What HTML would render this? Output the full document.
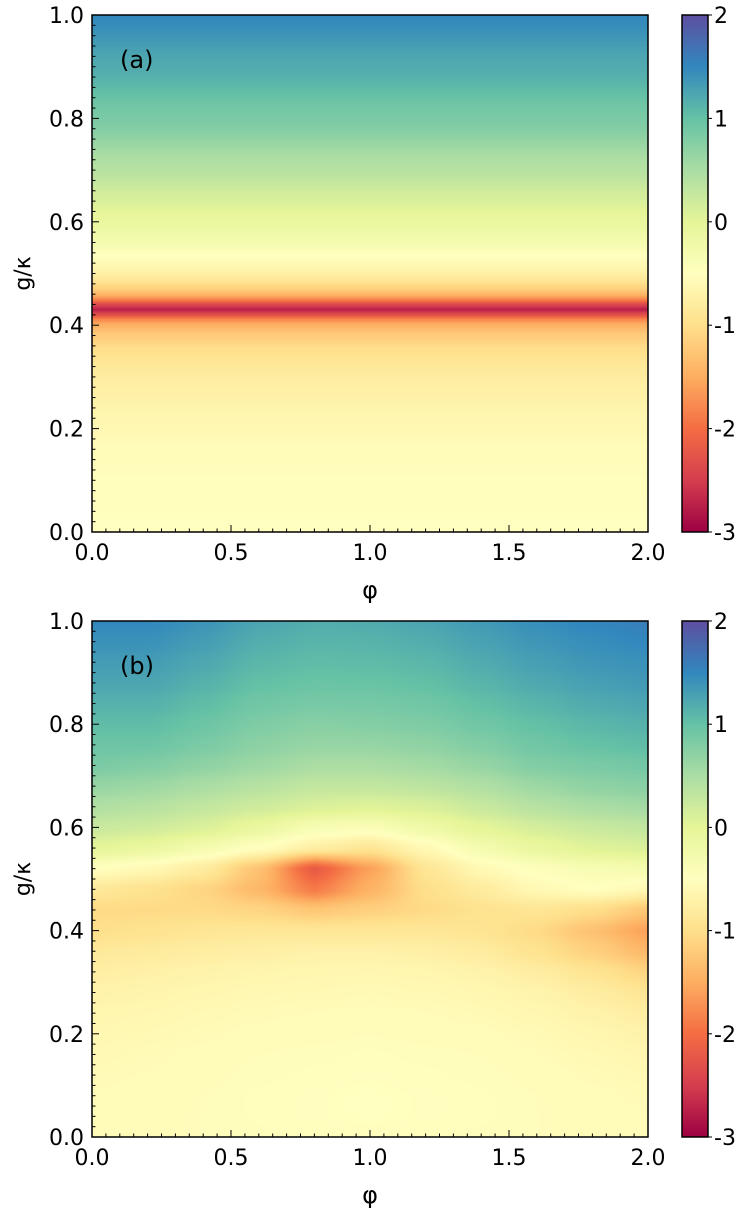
<!DOCTYPE html>
<html><head><meta charset="utf-8"><style>
body{margin:0;background:#fff;width:746px;height:1214px;overflow:hidden;font-family:"DejaVu Sans","Liberation Sans",sans-serif}
canvas{position:absolute}
svg{position:absolute;left:0;top:0}
</style></head><body>
<canvas id="ca" style="left:92px;top:15px" width="556" height="517"></canvas>
<canvas id="cb" style="left:92px;top:621px" width="556" height="516"></canvas>
<canvas id="cba" style="left:682px;top:15px" width="26" height="517"></canvas>
<canvas id="cbb" style="left:682px;top:621px" width="26" height="516"></canvas>
<svg id="ov" width="746" height="1214"></svg>
<script>
const spectral=[[158,1,66],[213,62,79],[244,109,67],[253,174,97],[254,224,139],[255,255,191],[230,245,152],[171,221,164],[102,194,165],[50,136,189],[94,79,162]];
const vmin=-3, vmax=2;
const xTicks=[0,0.5,1.0,1.5,2.0];
const yTicks=[0,0.2,0.4,0.6,0.8,1.0];
const cbTicks=[2,1,0,-1,-2,-3];
// panel (a): profile along g/kappa
const gA=[0,0.1,0.16,0.22,0.28,0.32,0.35,0.38,0.40,0.41,0.42,0.43,0.44,0.45,0.46,0.47,0.49,0.51,0.535,0.56,0.6,0.65,0.7,0.8,0.9,1.0];
const vA=[-0.5,-0.52,-0.56,-0.64,-0.75,-0.85,-0.98,-1.2,-1.45,-1.75,-2.3,-2.75,-2.4,-1.8,-1.4,-1.15,-0.85,-0.65,-0.5,-0.3,-0.1,0.15,0.4,0.85,1.2,1.5];
// panel (b): grid, phi columns 0..2 step 0.2, g rows 0..1 step 0.04
const phiB=[0,0.2,0.4,0.6,0.8,1.0,1.2,1.4,1.6,1.8,2.0];
const gB=[0,0.04,0.08,0.12,0.16,0.2,0.24,0.28,0.32,0.36,0.40,0.44,0.48,0.52,0.56,0.60,0.64,0.68,0.72,0.76,0.80,0.84,0.88,0.92,0.96,1.0];
const vB=[
[-0.56,-0.55,-0.54,-0.53,-0.52,-0.52,-0.52,-0.53,-0.54,-0.55,-0.56],
[-0.56,-0.55,-0.54,-0.52,-0.51,-0.5,-0.51,-0.52,-0.54,-0.55,-0.57],
[-0.57,-0.56,-0.54,-0.52,-0.51,-0.5,-0.51,-0.52,-0.54,-0.56,-0.58],
[-0.58,-0.57,-0.55,-0.53,-0.52,-0.51,-0.52,-0.53,-0.55,-0.58,-0.6],
[-0.6,-0.58,-0.56,-0.54,-0.53,-0.52,-0.53,-0.54,-0.57,-0.6,-0.64],
[-0.62,-0.6,-0.58,-0.56,-0.55,-0.54,-0.55,-0.56,-0.59,-0.64,-0.7],
[-0.65,-0.63,-0.6,-0.58,-0.57,-0.56,-0.57,-0.59,-0.63,-0.7,-0.78],
[-0.7,-0.67,-0.64,-0.61,-0.6,-0.59,-0.6,-0.63,-0.68,-0.78,-0.9],
[-0.76,-0.73,-0.69,-0.66,-0.64,-0.63,-0.65,-0.69,-0.78,-0.92,-1.1],
[-0.85,-0.82,-0.78,-0.75,-0.72,-0.72,-0.74,-0.8,-0.95,-1.15,-1.4],
[-1.0,-0.95,-0.9,-0.88,-0.88,-0.88,-0.88,-0.92,-1.05,-1.3,-1.6],
[-1.05,-1.05,-1.05,-1.1,-1.25,-1.15,-1.05,-0.95,-0.9,-1.0,-1.25],
[-0.85,-0.95,-1.1,-1.4,-1.9,-1.45,-1.0,-0.8,-0.6,-0.5,-0.6],
[-0.5,-0.6,-0.8,-1.3,-2.2,-1.6,-0.9,-0.6,-0.45,-0.35,-0.3],
[0.0,-0.1,-0.3,-0.5,-0.75,-0.9,-0.6,-0.3,-0.1,0.05,0.1],
[0.25,0.2,0.1,-0.1,-0.35,-0.4,-0.2,0.0,0.15,0.25,0.3],
[0.45,0.4,0.3,0.2,0.1,0.05,0.1,0.25,0.4,0.5,0.55],
[0.65,0.6,0.5,0.4,0.3,0.3,0.35,0.45,0.6,0.7,0.75],
[0.85,0.8,0.7,0.6,0.5,0.5,0.55,0.65,0.8,0.85,0.9],
[0.95,0.95,0.85,0.72,0.65,0.65,0.7,0.8,0.92,1.0,1.05],
[1.05,1.05,0.95,0.82,0.75,0.78,0.82,0.92,1.02,1.1,1.15],
[1.15,1.15,1.05,0.92,0.87,0.88,0.92,1.02,1.12,1.2,1.25],
[1.25,1.25,1.15,1.02,0.97,0.98,1.02,1.12,1.22,1.3,1.35],
[1.33,1.33,1.23,1.1,1.05,1.06,1.1,1.2,1.3,1.38,1.42],
[1.42,1.42,1.32,1.18,1.12,1.13,1.18,1.28,1.38,1.45,1.5],
[1.5,1.5,1.4,1.25,1.18,1.2,1.25,1.35,1.45,1.52,1.58]];

function cmap(v){let t=(v-vmin)/(vmax-vmin);t=Math.max(0,Math.min(1,t))*10;const i=Math.min(9,Math.floor(t)),f=t-i;const a=spectral[i],b=spectral[i+1];return [a[0]+(b[0]-a[0])*f,a[1]+(b[1]-a[1])*f,a[2]+(b[2]-a[2])*f];}
function interp1(xs,ys,x){if(x<=xs[0])return ys[0];for(let i=1;i<xs.length;i++){if(x<=xs[i]){let f=(x-xs[i-1])/(xs[i]-xs[i-1]);f=f*f*(3-2*f)*0.5+f*0.5;return ys[i-1]+(ys[i]-ys[i-1])*f;}}return ys[ys.length-1];}
function idx(xs,x){let i=0;while(i<xs.length-2&&x>xs[i+1])i++;let f=(x-xs[i])/(xs[i+1]-xs[i]);f=Math.max(0,Math.min(1,f));f=f*f*(3-2*f)*0.5+f*0.5;return [i,f];}
function bil(x,y){const [i,fx]=idx(phiB,x),[j,fy]=idx(gB,y);const a=vB[j][i],b=vB[j][i+1],c=vB[j+1][i],d=vB[j+1][i+1];return (a*(1-fx)+b*fx)*(1-fy)+(c*(1-fx)+d*fx)*fy;}
function paint(id,fn){const c=document.getElementById(id),ctx=c.getContext('2d'),W=c.width,H=c.height,im=ctx.createImageData(W,H);for(let y=0;y<H;y++){const g=1-(y+0.5)/H;for(let x=0;x<W;x++){const p=(x+0.5)/W*2;const col=cmap(fn(p,g));const k=(y*W+x)*4;im.data[k]=col[0];im.data[k+1]=col[1];im.data[k+2]=col[2];im.data[k+3]=255;}}ctx.putImageData(im,0,0);}
paint('ca',(p,g)=>interp1(gA,vA,g));
paint('cb',bil);
paint('cba',(p,g)=>vmin+g*(vmax-vmin));
paint('cbb',(p,g)=>vmin+g*(vmax-vmin));

const NS='http://www.w3.org/2000/svg';const ov=document.getElementById('ov');
function el(t,a,txt){const e=document.createElementNS(NS,t);for(const k in a)e.setAttribute(k,a[k]);if(txt!==undefined)e.textContent=txt;ov.appendChild(e);return e;}
function panel(top,H,lab,key){
 const L=92,W=556;
 const sx=p=>L+p/2*W, sy=g=>top+H-g*H;
 for(let k=0;k<=40;k++){const p=k*0.05,x=sx(p),maj=k%10===0;const t=el('line',{x1:x,x2:x,y1:top+H,y2:top+H-(maj?7:3.5),stroke:'#000','stroke-width':1});
  }
 for(let k=0;k<=50;k++){const g=k*0.02,y=sy(g),maj=k%10===0;const t=el('line',{x1:L,x2:L+(maj?7:3.5),y1:y,y2:y,stroke:'#000','stroke-width':1});
  }
 xTicks.forEach(v=>{const t=el('text',{x:sx(v),y:top+H+28,'font-size':22,'text-anchor':'middle'},v.toFixed(1));
  });
 yTicks.forEach(v=>{const t=el('text',{x:84,y:sy(v)+8,'font-size':22,'text-anchor':'end'},v.toFixed(1));
  });
 const fr=el('rect',{x:L,y:top,width:W,height:H,fill:'none',stroke:'#000','stroke-width':1.5});
 
 const cf=el('rect',{x:682,y:top,width:26,height:H,fill:'none',stroke:'#000','stroke-width':1.5});
 
 cbTicks.forEach(v=>{const y=top+H-(v-vmin)/(vmax-vmin)*H;
  const tk=el('line',{x1:708,x2:712,y1:y,y2:y,stroke:'#000','stroke-width':1});
  
  const t=el('text',{x:714,y:y+8,'font-size':22},String(v));
  });
 const xl=el('text',{x:L+W/2,y:top+H+66,'font-size':24,'text-anchor':'middle'},'φ');
 
 const cy=top+H/2;
 const yl=el('text',{x:30,y:cy,'font-size':22,'text-anchor':'middle',transform:'rotate(-90 30 '+cy+')'},'g/κ');
 
 const pl=el('text',{x:120,y:top+53,'font-size':24},lab);
 
}
panel(15,517,'(a)','a');
panel(621,516,'(b)','b');
</script>
</body></html>
